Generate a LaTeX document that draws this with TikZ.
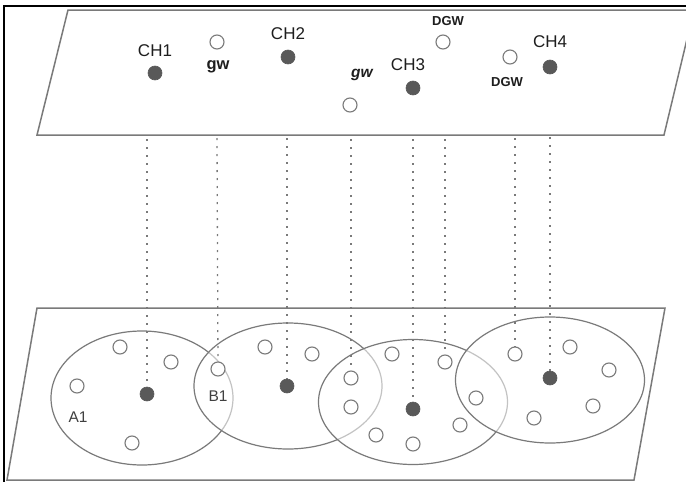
\documentclass[tikz,border=0pt]{standalone}
\usepackage{fontspec}
\setmainfont{Liberation Sans}
\usetikzlibrary{calc}
\definecolor{planeline}{HTML}{7A7A7A}
\definecolor{dotfill}{HTML}{595959}
\definecolor{txt}{HTML}{1E1E1E}
\begin{document}
\begin{tikzpicture}[x=1pt,y=-1pt,
  plane/.style={draw=planeline,line width=1.5pt,line join=miter},
  cluster/.style={draw=planeline,line width=1.2pt,fill=white,fill opacity=0.55},
  chnode/.style={circle,fill=dotfill,draw=dotfill,line width=0.6pt,minimum size=14pt,inner sep=0pt},
  gwnode/.style={circle,fill=white,draw=planeline,line width=1.1pt,minimum size=14pt,inner sep=0pt},
  link/.style={draw=planeline,line width=1.3pt,dash pattern=on 2pt off 6pt},
  chlab/.style={text=txt,font=\fontsize{17}{17}\selectfont,inner sep=0pt},
  gwlab/.style={text=txt,font=\fontsize{16.5}{16.5}\selectfont\bfseries,inner sep=0pt},
  dgwlab/.style={text=txt,font=\fontsize{13}{13}\selectfont\bfseries,inner sep=0pt},
  nlab/.style={text=txt!85!white,font=\fontsize{15.5}{15.5}\selectfont,inner sep=0pt}]
\useasboundingbox (0,0) rectangle (686,482);
\fill[white] (0,0) rectangle (686,482);
% frame (left and top)
\draw[black,line width=2.6pt] (4,482) -- (4,6) -- (686,6);
% planes
\draw[plane] (68,10) -- (694,10) -- (664,135) -- (37,135) -- cycle;
\draw[plane] (37,308) -- (665,308) -- (634,480) -- (7,480) -- cycle;
% clusters
\draw[cluster] (142,398) ellipse [x radius=91,y radius=67];
\draw[cluster] (288,386) ellipse [x radius=94,y radius=63];
\draw[cluster] (413,402) ellipse [x radius=94.5,y radius=62.5];
\draw[cluster] (550,380) ellipse [x radius=94.5,y radius=63];
% upper plane nodes
\node[chnode] (ch1) at (155,73) {};
\node[gwnode] (ugw1) at (217,42) {};
\node[chnode] (ch2) at (288,57) {};
\node[gwnode] (ugw2) at (350,105) {};
\node[chnode] (ch3) at (413,88) {};
\node[gwnode] (udgw1) at (443,42) {};
\node[gwnode] (udgw2) at (510,57) {};
\node[chnode] (ch4) at (550,67) {};
\node[chlab] (lch1) at (155,51) {CH1};
\node[gwlab] (lgw1) at (218,67) {gw};
\node[chlab] (lch2) at (288,34) {CH2};
\node[dgwlab] (ldgw1) at (448,21) {DGW};
\node[gwlab,font=\fontsize{15.5}{15.5}\selectfont\bfseries\itshape] (lgw2) at (362,75) {gw};
\node[chlab] (lch3) at (408,65) {CH3};
\node[dgwlab] (ldgw2) at (507,82) {DGW};
\node[chlab] (lch4) at (550,42) {CH4};
% lower plane nodes: cluster 1
\node[gwnode] (a2) at (120,347) {};
\node[gwnode] (a3) at (171,362) {};
\node[gwnode] (a1) at (77,386) {};
\node[chnode] (c1) at (147,394) {};
\node[gwnode] (a4) at (132,443) {};
\node[gwnode] (b1) at (218,369) {};
\node[nlab] (la1) at (78,417) {A1};
\node[nlab] (lb1) at (218,396) {B1};
% cluster 2
\node[gwnode] (e2a) at (265,347) {};
\node[gwnode] (e2b) at (312,354) {};
\node[chnode] (c2) at (287,386) {};
% cluster 3
\node[gwnode] (g1) at (351,378) {};
\node[gwnode] (g2) at (351,407) {};
\node[gwnode] (e3a) at (392,354) {};
\node[chnode] (c3) at (413,409) {};
\node[gwnode] (d1) at (445,362) {};
\node[gwnode] (e3b) at (476,398) {};
\node[gwnode] (e3c) at (460,425) {};
\node[gwnode] (e3d) at (376,435) {};
\node[gwnode] (e3e) at (413,444) {};
% cluster 4
\node[gwnode] (d2) at (515,354) {};
\node[gwnode] (e4a) at (570,347) {};
\node[gwnode] (e4b) at (609,370) {};
\node[chnode] (c4) at (550,378) {};
\node[gwnode] (e4c) at (593,406) {};
\node[gwnode] (e4d) at (534,418) {};
% projection lines
\coordinate (p1) at (147,139);
\coordinate (p2) at (217,138);
\coordinate (p3) at (287,138);
\coordinate (p4) at (351,139);
\coordinate (p5) at (413,139);
\coordinate (p6) at (445,139);
\coordinate (p7) at (515,138);
\coordinate (p8) at (550,137);
\draw[link] (p1) -- (c1);
\draw[link] (p2) -- (b1);
\draw[link] (p3) -- (c2);
\draw[link] (p4) -- (g1);
\draw[link] (p5) -- (c3);
\draw[link] (p6) -- (d1);
\draw[link] (p7) -- (d2);
\draw[link] (p8) -- (c4);
\end{tikzpicture}
\end{document}
